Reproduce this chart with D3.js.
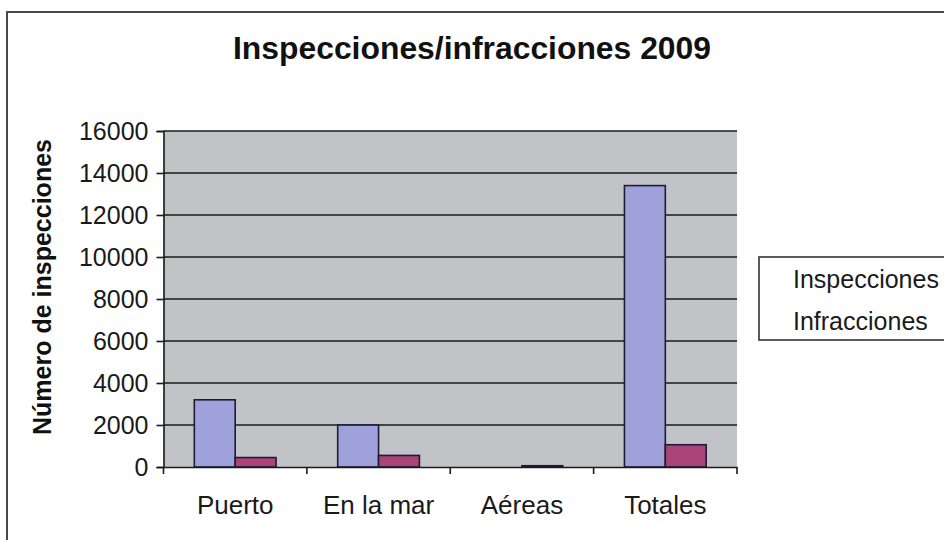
<!DOCTYPE html>
<html><head><meta charset="utf-8">
<script src="https://cdn.jsdelivr.net/npm/d3@7"></script>
<style>html,body{margin:0;padding:0;background:#fff;}svg{display:block;font-family:"Liberation Sans",Arial,Helvetica,sans-serif;}</style>
</head><body>
<svg id="c" width="944" height="540"></svg>
<script>
const categories = ["Puerto", "En la mar", "Aéreas", "Totales"];
const seriesNames = ["Inspecciones", "Infracciones"];
const inspecciones = [3200, 2000, 0, 13400];
const infracciones = [450, 550, 60, 1060];
const yTicks = [0, 2000, 4000, 6000, 8000, 10000, 12000, 14000, 16000];
const title = "Inspecciones/infracciones 2009";
const yTitle = "Número de inspecciones";
const colors = ["#9ea1da", "#ab4477"];

const svg = d3.select("#c");
// outer frame
svg.append("rect").attr("x", 7).attr("y", 12).attr("width", 960).attr("height", 560)
  .attr("fill", "#fff").attr("stroke", "#4a4a4a").attr("stroke-width", 2);

const L = 163.5, R = 737, T = 131, B = 467;
const x0 = d3.scaleBand().domain(categories).range([L, R]).padding(0);
const x1 = d3.scaleBand().domain(seriesNames).range([x0.bandwidth()*0.215, x0.bandwidth()*0.785]).padding(0);
const y = d3.scaleLinear().domain([0, 16000]).range([B, T]);

svg.append("rect").attr("x", L).attr("y", T).attr("width", R - L).attr("height", B - T).attr("fill", "#c2c3c7");

// gridlines
svg.append("g").selectAll("line").data(yTicks.filter(d => d > 0)).join("line")
  .attr("x1", L).attr("x2", R).attr("y1", d => y(d)).attr("y2", d => y(d))
  .attr("stroke", "#1a1a1a").attr("stroke-width", 1.6);

// bars
const data = categories.map((c, i) => ({c, vals: [inspecciones[i], infracciones[i]]}));
const g = svg.append("g").selectAll("g").data(data).join("g")
  .attr("transform", d => `translate(${x0(d.c)},0)`);
g.selectAll("rect").data(d => d.vals.map((v, k) => ({k, v}))).join("rect")
  .attr("x", d => x1(seriesNames[d.k])).attr("width", x1.bandwidth())
  .attr("y", d => y(d.v)).attr("height", d => B - y(d.v))
  .attr("fill", d => colors[d.k]).attr("stroke", "#1c1c38").attr("stroke-width", 1.6);

// y axis
const yAxis = svg.append("g").attr("transform", `translate(${L},0)`)
  .call(d3.axisLeft(y).tickValues(yTicks).tickSize(7).tickPadding(8).tickFormat(d3.format("d")));
yAxis.select(".domain").attr("stroke", "#1a1a1a").attr("stroke-width", 1.6);
yAxis.selectAll(".tick line").attr("stroke", "#1a1a1a").attr("stroke-width", 1.6);
yAxis.selectAll("text").attr("font-size", 25).attr("fill", "#1a1a1a")
  .attr("font-family", "'Liberation Sans',Arial,sans-serif");

// x axis
const xAxis = svg.append("g").attr("transform", `translate(0,${B})`)
  .call(d3.axisBottom(x0).tickSize(0).tickPadding(29));
xAxis.select(".domain").attr("stroke", "#1a1a1a").attr("stroke-width", 1.6);
xAxis.selectAll("text").attr("font-size", 26).attr("fill", "#1a1a1a")
  .attr("font-family", "'Liberation Sans',Arial,sans-serif");
const bounds = categories.map(c => x0(c)).concat([R]);
svg.append("g").selectAll("line").data(bounds).join("line")
  .attr("x1", d => d).attr("x2", d => d).attr("y1", B).attr("y2", B + 7)
  .attr("stroke", "#1a1a1a").attr("stroke-width", 1.6);

// title
svg.append("text").attr("x", 472).attr("y", 59).attr("text-anchor", "middle")
  .attr("font-size", 31).attr("font-weight", "bold").attr("fill", "#111")
  .attr("textLength", 478).attr("lengthAdjust", "spacingAndGlyphs").text(title);

// y title
svg.append("text").attr("transform", `translate(51,${(T + B) / 2 - 12}) rotate(-90)`)
  .attr("text-anchor", "middle").attr("font-size", 25).attr("font-weight", "bold")
  .attr("fill", "#111").text(yTitle);

// legend
svg.append("rect").attr("x", 759).attr("y", 257).attr("width", 200).attr("height", 83)
  .attr("fill", "#fff").attr("stroke", "#333").attr("stroke-width", 1.6);
svg.append("g").selectAll("text").data(seriesNames).join("text")
  .attr("x", 793).attr("y", (d, i) => 288 + i * 42)
  .attr("font-size", 25).attr("fill", "#1a1a1a").text(d => d);
</script>
</body></html>
